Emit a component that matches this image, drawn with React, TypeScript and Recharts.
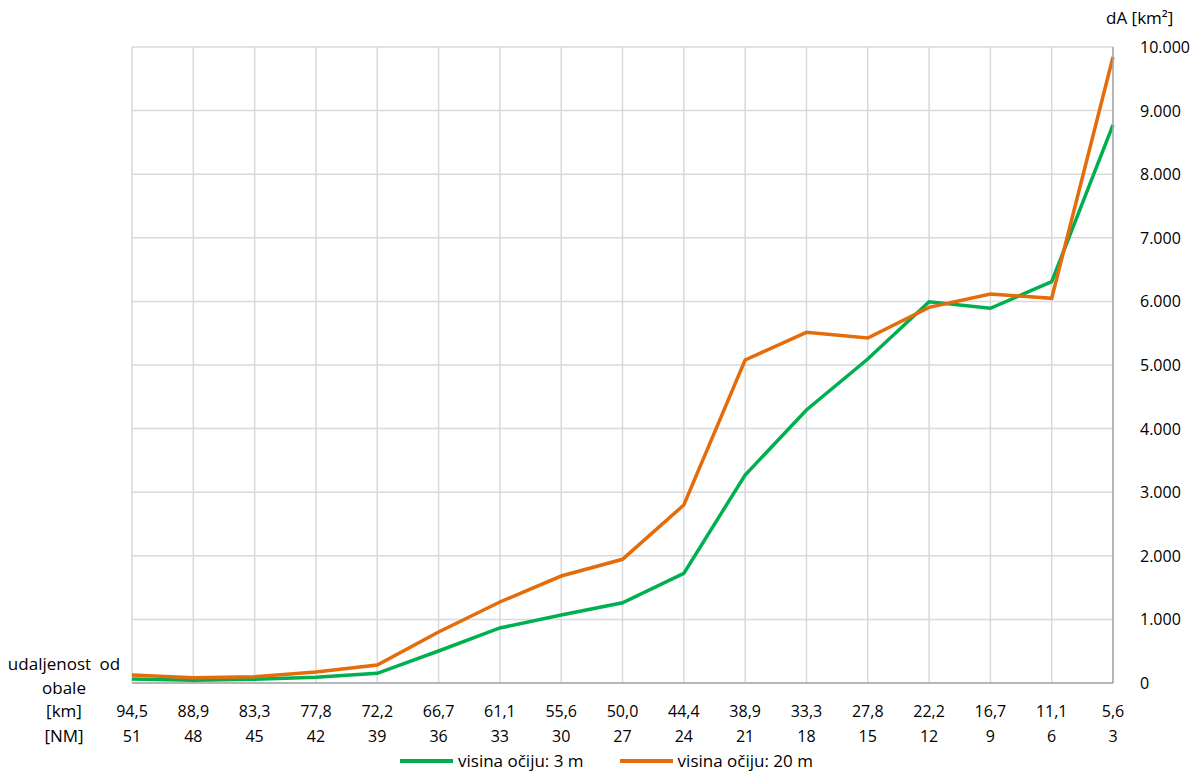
import React from 'react';
import {
  LineChart,
  Line,
  XAxis,
  YAxis,
  CartesianGrid,
  Legend,
} from 'recharts';

const kmLabels = ['94,5', '88,9', '83,3', '77,8', '72,2', '66,7', '61,1', '55,6', '50,0', '44,4', '38,9', '33,3', '27,8', '22,2', '16,7', '11,1', '5,6'];
const nmLabels = ['51', '48', '45', '42', '39', '36', '33', '30', '27', '24', '21', '18', '15', '12', '9', '6', '3'];
const eye3m = [63, 42, 58, 89, 152, 503, 865, 1069, 1262, 1724, 3270, 4292, 5094, 5995, 5891, 6310, 8774];
const eye20m = [126, 84, 100, 173, 283, 802, 1274, 1682, 1945, 2799, 5079, 5514, 5425, 5907, 6116, 6049, 9843];
const yTicks = [0, 1000, 2000, 3000, 4000, 5000, 6000, 7000, 8000, 9000, 10000];

const data = kmLabels.map((km, i) => ({
  km,
  nm: nmLabels[i],
  a: eye3m[i],
  b: eye20m[i],
}));

const FONT = '"Open Sans", sans-serif';
const GREEN = '#00B050';
const ORANGE = '#E46C0A';

const fmt = (v: number) => (v === 0 ? '0' : v.toLocaleString('de-DE'));

const XTick = (props: any) => {
  const { x, y, payload, index } = props;
  const i = index ?? payload.index;
  return (
    <g>
      <text x={x} y={y + 26} textAnchor="middle" fontSize={16} fill="#000" fontFamily={FONT}>
        {kmLabels[i]}
      </text>
      <text x={x} y={y + 51} textAnchor="middle" fontSize={16} fill="#000" fontFamily={FONT}>
        {nmLabels[i]}
      </text>
      {i === 0 && (
        <g fontSize={17} fill="#000" fontFamily={FONT} textAnchor="middle">
          <text x={64} y={y - 21} wordSpacing={4}>udaljenost od</text>
          <text x={64} y={y + 3}>obale</text>
          <text x={64} y={y + 26}>[km]</text>
          <text x={64} y={y + 51}>[NM]</text>
        </g>
      )}
    </g>
  );
};

const YTick = (props: any) => {
  const { x, y, payload } = props;
  return (
    <text x={x + 19} y={y + 6} textAnchor="start" fontSize={16} fill="#000" fontFamily={FONT}>
      {fmt(payload.value)}
    </text>
  );
};

const legendContent = () => (
  <div style={{ display: 'flex', justifyContent: 'flex-start', fontFamily: FONT, fontSize: 17, paddingLeft: 268, paddingTop: 2 }}>
    {[
      { c: GREEN, t: 'visina očiju: 3 m' },
      { c: ORANGE, t: 'visina očiju: 20 m' },
    ].map((e, k) => (
      <div key={k} style={{ display: 'flex', alignItems: 'center', marginRight: k === 0 ? 36 : 0 }}>
        <div style={{ width: 53, height: 4, background: e.c, marginRight: 5 }} />
        <span>{e.t}</span>
      </div>
    ))}
  </div>
);

export default function App() {
  return (
    <div style={{ position: 'absolute', left: 0, top: 0, width: 1197, height: 777, background: '#fff' }}>
      <LineChart width={1197} height={777} data={data} margin={{ top: 47, right: 4, left: 132, bottom: 6 }}>
        <CartesianGrid stroke="#D9D9D9" strokeWidth={1.5} />
        <XAxis
          dataKey="km"
          interval={0}
          tickLine={false}
          axisLine={{ stroke: '#A6A6A6', strokeWidth: 1.5 }}
          height={64}
          tick={<XTick />}
        />
        <YAxis
          orientation="right"
          domain={[0, 10000]}
          ticks={yTicks}
          interval={0}
          width={80}
          tickLine={false}
          axisLine={{ stroke: '#A6A6A6', strokeWidth: 1.5 }}
          tick={<YTick />}
          label={() => (
            <text x={1106} y={24} fontSize={17} fill="#000" fontFamily={FONT}>
              dA [km²]
            </text>
          )}
        />
        <Legend verticalAlign="bottom" height={24} content={legendContent} />
        <Line type="linear" dataKey="a" name="visina očiju: 3 m" stroke={GREEN} strokeWidth={3.5} dot={false} isAnimationActive={false} />
        <Line type="linear" dataKey="b" name="visina očiju: 20 m" stroke={ORANGE} strokeWidth={3.5} dot={false} isAnimationActive={false} />
      </LineChart>
    </div>
  );
}
